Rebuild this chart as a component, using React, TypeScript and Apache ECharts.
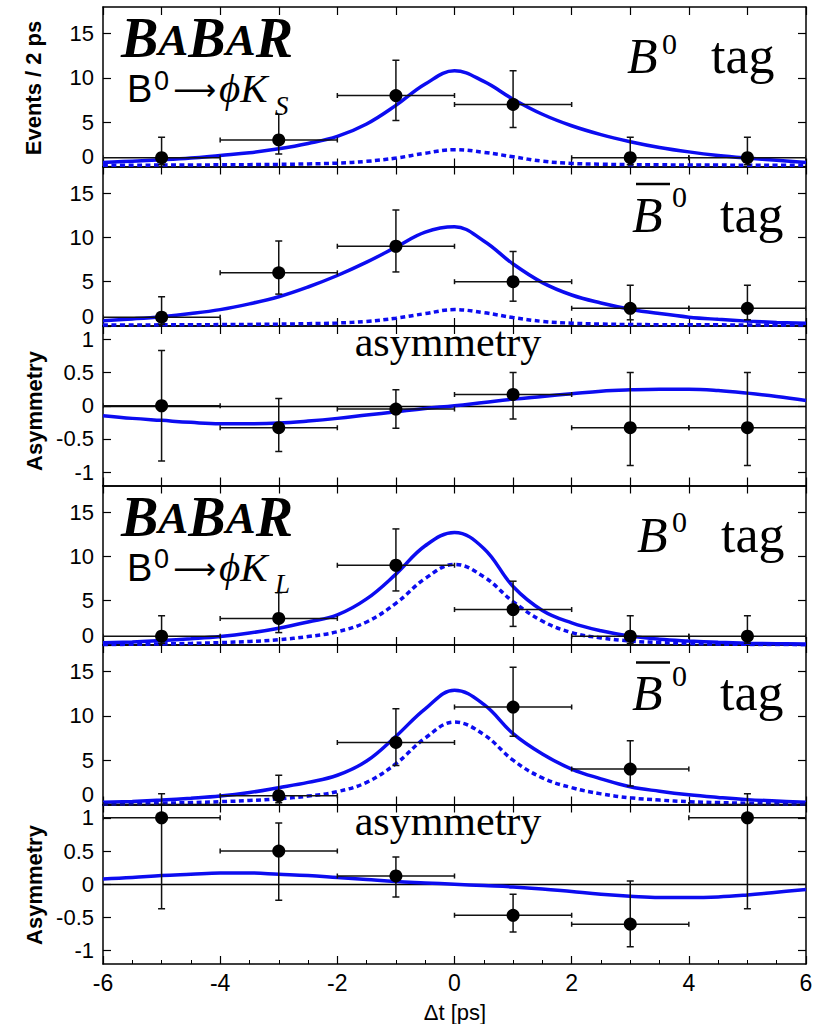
import React, { useEffect, useRef } from "react";
import * as echarts from "echarts";

// ---------- data ----------
const binCenters = [-5, -3, -1, 1, 3, 5];
const binHalfWidth = 1;
const fitTimes = [-6, -5.5, -5, -4.5, -4, -3.5, -3, -2.5, -2, -1.5, -1, -0.5, 0, 0.5, 1, 1.5, 2, 2.5, 3, 3.5, 4, 4.5, 5, 5.5, 6];

// B0 -> phi K_S, B0 tag
const ksB0Counts = [1, 3, 8, 7, 1, 1];
const ksB0ErrDown = [0.8, 1.6, 2.8, 2.6, 0.8, 0.8];
const ksB0ErrUp = [2.3, 2.9, 4.0, 3.8, 2.3, 2.3];
const ksB0Fit = [0.45, 0.6, 0.75, 0.95, 1.25, 1.55, 2.0, 2.6, 3.4, 4.8, 6.9, 9.3, 10.8, 9.6, 7.6, 5.9, 4.6, 3.6, 2.8, 2.15, 1.65, 1.25, 0.95, 0.7, 0.45];
const ksB0Dashed = [0.15, 0.15, 0.16, 0.17, 0.19, 0.21, 0.24, 0.29, 0.38, 0.58, 0.95, 1.5, 1.9, 1.6, 1.1, 0.6, 0.35, 0.26, 0.21, 0.19, 0.17, 0.16, 0.15, 0.15, 0.15];

// B0 -> phi K_S, B0bar tag
const ksB0barCounts = [1, 6, 9, 5, 2, 2];
const ksB0barErrDown = [0.8, 2.4, 2.9, 2.2, 1.3, 1.3];
const ksB0barErrUp = [2.3, 3.6, 4.1, 3.4, 2.6, 2.6];
const ksB0barFit = [0.6, 0.8, 1.05, 1.4, 1.85, 2.5, 3.3, 4.4, 5.7, 7.2, 8.9, 10.6, 11.2, 9.6, 7.0, 4.9, 3.5, 2.6, 1.9, 1.4, 1.0, 0.75, 0.55, 0.4, 0.3];
const ksB0barDashed = [0.12, 0.12, 0.13, 0.14, 0.16, 0.18, 0.21, 0.26, 0.34, 0.52, 0.88, 1.4, 1.85, 1.5, 0.95, 0.52, 0.32, 0.22, 0.17, 0.15, 0.14, 0.13, 0.12, 0.12, 0.12];

// B0 -> phi K_S, asymmetry
const ksAsym = [0, -0.33, -0.05, 0.17, -0.33, -0.33];
const ksAsymLow = [-0.83, -0.69, -0.34, -0.2, -0.9, -0.9];
const ksAsymHigh = [0.83, 0.11, 0.24, 0.5, 0.5, 0.5];
const ksAsymFit = [-0.15, -0.19, -0.22, -0.25, -0.27, -0.27, -0.26, -0.23, -0.19, -0.14, -0.09, -0.04, 0.0, 0.05, 0.1, 0.14, 0.18, 0.22, 0.24, 0.25, 0.25, 0.23, 0.19, 0.14, 0.08];

// B0 -> phi K_L, B0 tag
const klB0Counts = [1, 3, 9, 4, 1, 1];
const klB0ErrDown = [0.8, 1.6, 2.9, 1.9, 0.8, 0.8];
const klB0ErrUp = [2.3, 2.9, 4.1, 3.2, 2.3, 2.3];
const klB0Fit = [0.25, 0.35, 0.5, 0.7, 0.95, 1.35, 1.9, 2.6, 3.4, 5.2, 8.0, 11.2, 12.7, 10.9, 6.6, 3.9, 2.5, 1.6, 1.0, 0.65, 0.45, 0.3, 0.2, 0.15, 0.1];
const klB0Dashed = [0.05, 0.08, 0.12, 0.18, 0.27, 0.4, 0.6, 0.95, 1.5, 2.6, 4.7, 7.5, 9.1, 7.7, 4.9, 2.7, 1.4, 0.8, 0.45, 0.27, 0.17, 0.1, 0.07, 0.05, 0.04];

// B0 -> phi K_L, B0bar tag
const klB0barCounts = [0, 1, 7, 11, 4, 0];
const klB0barErrDown = [0, 0.8, 2.6, 3.3, 1.9, 0];
const klB0barErrUp = [1.2, 2.3, 3.8, 4.5, 3.2, 1.2];
const klB0barFit = [0.25, 0.35, 0.5, 0.7, 0.95, 1.35, 1.9, 2.5, 3.3, 4.9, 7.7, 10.8, 12.9, 11.3, 8.0, 5.7, 4.0, 2.9, 2.0, 1.5, 1.1, 0.8, 0.55, 0.4, 0.25];
const klB0barDashed = [0.08, 0.1, 0.15, 0.22, 0.32, 0.45, 0.65, 0.95, 1.45, 2.5, 4.6, 7.5, 9.3, 7.9, 5.0, 3.0, 1.9, 1.2, 0.75, 0.5, 0.32, 0.22, 0.15, 0.1, 0.08];

// B0 -> phi K_L, asymmetry
const klAsym = [1, 0.5, 0.125, -0.467, -0.6, 1];
const klAsymLow = [-0.37, -0.24, -0.19, -0.72, -0.94, -0.37];
const klAsymHigh = [1, 0.92, 0.41, -0.15, 0.05, 1];
const klAsymFit = [0.08, 0.1, 0.13, 0.15, 0.17, 0.17, 0.15, 0.13, 0.1, 0.07, 0.04, 0.02, 0.0, -0.02, -0.04, -0.07, -0.11, -0.15, -0.18, -0.2, -0.2, -0.19, -0.16, -0.12, -0.08];

const eventTicks = [0, 5, 10, 15];
const asymTicks = [-1, -0.5, 0, 0.5, 1];
const xTickLabels = [-6, -4, -2, 0, 2, 4, 6];

// ---------- styling ----------
const BLUE = "#0c0cf0";
const SANS = "'Liberation Sans', Arial, Helvetica, sans-serif";
const SERIF = "'Liberation Serif', 'Times New Roman', 'DejaVu Serif', serif";
const PANEL_TOP = 7;
const PANEL_H = 159.5;
const LEFT = 103;
const RIGHT = 23;

type Panel = {
  kind: "events" | "asym";
  y: number[];
  low: number[];
  high: number[];
  fit: number[];
  dashed?: number[];
};

const evPanel = (c: number[], d: number[], u: number[], fit: number[], dashed: number[]): Panel => ({
  kind: "events",
  y: c,
  low: c.map((v, i) => v - d[i]),
  high: c.map((v, i) => v + u[i]),
  fit,
  dashed,
});

const panels: Panel[] = [
  evPanel(ksB0Counts, ksB0ErrDown, ksB0ErrUp, ksB0Fit, ksB0Dashed),
  evPanel(ksB0barCounts, ksB0barErrDown, ksB0barErrUp, ksB0barFit, ksB0barDashed),
  { kind: "asym", y: ksAsym, low: ksAsymLow, high: ksAsymHigh, fit: ksAsymFit },
  evPanel(klB0Counts, klB0ErrDown, klB0ErrUp, klB0Fit, klB0Dashed),
  evPanel(klB0barCounts, klB0barErrDown, klB0barErrUp, klB0barFit, klB0barDashed),
  { kind: "asym", y: klAsym, low: klAsymLow, high: klAsymHigh, fit: klAsymFit },
];

const axisLine = { show: true, onZero: false, lineStyle: { color: "#000", width: 1.5 } };

function txt(text: string, left: number, baseline: number, size: number, family: string, extra: any = {}) {
  return {
    type: "text",
    x: left,
    y: baseline - 0.34 * size,
    z: 100,
    style: {
      text,
      fontSize: size,
      fontFamily: family,
      fill: "#000",
      align: "left",
      verticalAlign: "middle",
      ...extra,
    },
  };
}

function buildOption() {
  const grids: any[] = [];
  const xAxes: any[] = [];
  const yAxes: any[] = [];
  const series: any[] = [];
  const last = panels.length - 1;

  panels.forEach((p, i) => {
    grids.push({ left: LEFT, right: RIGHT, top: PANEL_TOP + PANEL_H * i, height: PANEL_H, outerBoundsMode: "none" });
    const isLast = i === last;
    xAxes.push({
      type: "value",
      gridIndex: i,
      position: "bottom",
      min: -6,
      max: 6,
      interval: isLast ? 2 : 1,
      axisLine,
      axisTick: { show: true, inside: true, length: 8, lineStyle: { color: "#000", width: 1.2 } },
      minorTick: isLast ? { show: true, splitNumber: 4, length: 4, lineStyle: { color: "#000", width: 1 } } : { show: false },
      axisLabel: isLast
        ? { show: true, customValues: xTickLabels, fontSize: 23, fontFamily: SANS, color: "#000", margin: 7 }
        : { show: false },
      splitLine: { show: false },
    });
    xAxes.push({
      type: "value",
      gridIndex: i,
      position: "top",
      min: -6,
      max: 6,
      interval: 1,
      axisLine,
      axisTick: { show: true, inside: true, length: 8, lineStyle: { color: "#000", width: 1.2 } },
      axisLabel: { show: false },
      splitLine: { show: false },
    });
    const isEv = p.kind === "events";
    const ticks = isEv ? eventTicks : asymTicks;
    const yMin = isEv ? 0 : -1.2;
    const yMax = isEv ? 18 : 1.2;
    yAxes.push({
      type: "value",
      gridIndex: i,
      position: "left",
      min: yMin,
      max: yMax,
      axisLine,
      axisTick: { show: true, inside: true, length: 8, customValues: ticks, lineStyle: { color: "#000", width: 1.2 } },
      axisLabel: {
        show: true,
        customValues: ticks,
        fontSize: 22,
        lineHeight: isEv ? 20 : 14,
        fontFamily: SANS,
        color: "#000",
        margin: 9,
        verticalAlignMinLabel: isEv ? "bottom" : "middle",
      },
      splitLine: { show: false },
    });
    yAxes.push({
      type: "value",
      gridIndex: i,
      position: "right",
      min: yMin,
      max: yMax,
      axisLine,
      axisTick: { show: true, inside: true, length: 8, customValues: ticks, lineStyle: { color: "#000", width: 1.2 } },
      axisLabel: { show: false },
      splitLine: { show: false },
    });

    const xi = i * 2;
    const yi = i * 2;

    if (p.dashed) {
      series.push({
        type: "line",
        xAxisIndex: xi,
        yAxisIndex: yi,
        data: fitTimes.map((t, k) => [t, p.dashed![k]]),
        smooth: 0.4,
        showSymbol: false,
        clip: true,
        z: 2,
        lineStyle: { color: BLUE, width: 3.5, type: [5, 3.5] },
      });
    }
    series.push({
      type: "line",
      xAxisIndex: xi,
      yAxisIndex: yi,
      data: fitTimes.map((t, k) => [t, p.fit[k]]),
      smooth: 0.4,
      showSymbol: false,
      clip: true,
      z: 3,
      lineStyle: { color: BLUE, width: 3.5 },
      markLine: isEv
        ? undefined
        : {
            silent: true,
            symbol: ["none", "none"],
            label: { show: false },
            lineStyle: { color: "#000", width: 1.3, type: "solid" },
            data: [{ yAxis: 0 }],
            z: 1,
          },
    });
    series.push({
      type: "custom",
      xAxisIndex: xi,
      yAxisIndex: yi,
      clip: true,
      z: 4,
      encode: { x: 0, y: 1 },
      data: binCenters.map((x, k) => [x, p.y[k], p.low[k], p.high[k]]),
      renderItem: (params: any, api: any) => {
        const x = api.value(0);
        const y = api.value(1);
        const lo = api.value(2);
        const hi = api.value(3);
        const pl = api.coord([x - binHalfWidth, y]);
        const pr = api.coord([x + binHalfWidth, y]);
        const pt = api.coord([x, hi]);
        const pb = api.coord([x, lo]);
        const st = { stroke: "#111", lineWidth: 1.5 };
        const hc = 3.5;
        const vc = 2.5;
        const ln = (x1: number, y1: number, x2: number, y2: number) => ({ type: "line", shape: { x1, y1, x2, y2 }, style: st });
        return {
          type: "group",
          children: [
            ln(pl[0], pl[1], pr[0], pr[1]),
            ln(pt[0], pt[1], pb[0], pb[1]),
            ln(pl[0], pl[1] - vc, pl[0], pl[1] + vc),
            ln(pr[0], pr[1] - vc, pr[0], pr[1] + vc),
            ln(pt[0] - hc, pt[1], pt[0] + hc, pt[1]),
            ln(pb[0] - hc, pb[1], pb[0] + hc, pb[1]),
          ],
        };
      },
    });
    series.push({
      type: "scatter",
      xAxisIndex: xi,
      yAxisIndex: yi,
      symbol: "circle",
      symbolSize: 13,
      z: 5,
      itemStyle: { color: "#000", opacity: 1 },
      data: binCenters.map((x, k) => [x, p.y[k]]).filter((d) => !(isEv && d[1] <= 0)),
    });
  });

  const off = PANEL_H * 3;
  const babar = (top: number) => ({
    type: "text",
    x: 121,
    y: top,
    z: 100,
    style: {
      text: "{b|B}{a|A}{b|B}{a|A}{b|R}",
      align: "left",
      verticalAlign: "top",
      fill: "#000",
      rich: {
        b: { fontSize: 56, lineHeight: 48, fontFamily: SERIF, fontWeight: "bold", fontStyle: "italic", fill: "#000" },
        a: { fontSize: 45, lineHeight: 42, verticalAlign: "bottom", fontFamily: SERIF, fontWeight: "bold", fontStyle: "italic", fill: "#000" },
      },
    },
  });
  const decay = (dy: number, sub: string) => [
    txt("B", 127, 102 + dy, 38, SANS),
    txt("0", 154, 90 + dy, 27, SANS),
    txt("\u27F6", 173, 100 + dy, 30, "'DejaVu Sans', sans-serif"),
    txt("\u03D5K", 219, 102 + dy, 41, SERIF, { fontStyle: "italic" }),
    txt(sub, 275, 115 + dy, 27, SERIF, { fontStyle: "italic" }),
  ];
  const b0tag = (left: number, base: number) => [
    txt("B", left, base, 50, SERIF, { fontStyle: "italic" }),
    txt("0", left + 35, base - 20, 30, SERIF),
    txt("tag", left + 84, base, 52, SERIF),
  ];
  const b0bartag = (left: number, base: number) => [
    txt("B", left, base, 50, SERIF, { fontStyle: "italic" }),
    { type: "rect", z: 100, shape: { x: left + 4, y: base - 49, width: 34, height: 2.5 }, style: { fill: "#000" } },
    txt("0", left + 40, base - 25, 30, SERIF),
    txt("tag", left + 88, base, 52, SERIF),
  ];
  const centered = (text: string, cx: number, baseline: number, size: number) => {
    const t = txt(text, cx, baseline, size, SERIF);
    return { ...t, style: { ...t.style, align: "center" } };
  };
  const rotLabel = (text: string, cx: number, cy: number) => ({
    type: "text",
    x: cx,
    y: cy,
    rotation: Math.PI / 2,
    z: 100,
    style: { text, fontSize: 22, fontWeight: "bold", fontFamily: SANS, fill: "#000", align: "center", verticalAlign: "middle" },
  });

  const graphic: any[] = [
    babar(14),
    ...decay(0, "S"),
    ...b0tag(627, 73.3),
    ...b0bartag(632, 231.7),
    centered("asymmetry", 448, 356.7, 42),
    babar(14 + off),
    ...decay(off, "L"),
    ...b0tag(637, 73.3 + off),
    ...b0bartag(632, 231.7 + off),
    centered("asymmetry", 448, 356.7 + off, 42),
    rotLabel("Events / 2 ps", 33, 88),
    rotLabel("Asymmetry", 34, 411),
    rotLabel("Asymmetry", 34, 885),
    {
      type: "text",
      x: 455,
      y: 1012,
      z: 100,
      style: { text: "\u0394t [ps]", fontSize: 22, fontFamily: SANS, fill: "#000", align: "center", verticalAlign: "middle" },
    },
  ];

  return {
    animation: false,
    backgroundColor: "#fff",
    grid: grids,
    xAxis: xAxes,
    yAxis: yAxes,
    series,
    graphic,
  };
}

export default function App() {
  const ref = useRef<HTMLDivElement>(null);
  useEffect(() => {
    if (!ref.current) return;
    const chart = echarts.init(ref.current, undefined, { renderer: "svg" });
    chart.setOption(buildOption() as any);
    return () => chart.dispose();
  }, []);
  return <div ref={ref} style={{ position: "absolute", left: 0, top: 0, width: 829, height: 1024 }} />;
}
